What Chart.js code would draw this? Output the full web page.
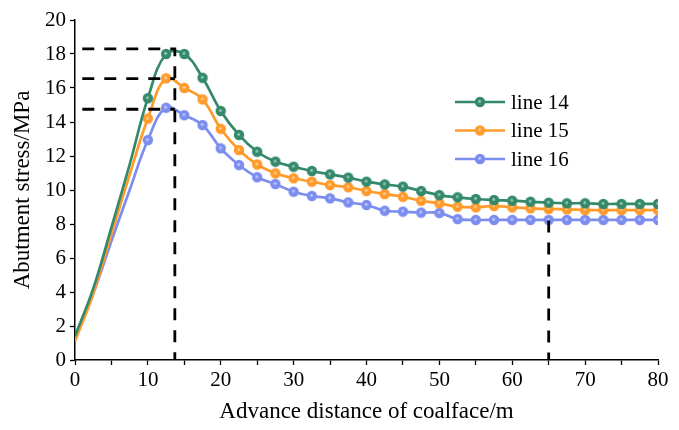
<!DOCTYPE html>
<html>
<head>
<meta charset="utf-8">
<script src="https://cdn.jsdelivr.net/npm/chart.js@4.4.1/dist/chart.umd.min.js"></script>
<style>
  html, body { margin: 0; padding: 0; background: #fff; }
  #wrap { width: 679px; height: 430px; }
</style>
</head>
<body>
<div id="wrap"><canvas id="myChart" width="679" height="430"></canvas></div>
<script>
// advance distance (m) - first four points have no marker
const distance = [0, 2.5, 5, 7.5, 10, 12.5, 15, 17.5, 20, 22.5, 25, 27.5, 30, 32.5, 35, 37.5, 40,
  42.5, 45, 47.5, 50, 52.5, 55, 57.5, 60, 62.5, 65, 67.5, 70, 72.5, 75, 77.5, 80];
const line14 = [1.4, 4.2, 7.8, 11.5, 15.4, 18.0, 18.0, 16.6, 14.65, 13.24, 12.25, 11.67, 11.37, 11.12,
  10.92, 10.73, 10.49, 10.33, 10.2, 9.94, 9.7, 9.57, 9.47, 9.41, 9.37, 9.31, 9.25, 9.22, 9.22, 9.18,
  9.18, 9.18, 9.18];
const line15 = [1.1, 3.9, 7.4, 10.9, 14.2, 16.57, 16.0, 15.33, 13.6, 12.35, 11.5, 10.98, 10.69, 10.49,
  10.29, 10.16, 9.94, 9.76, 9.6, 9.37, 9.22, 9.02, 8.98, 9.06, 8.98, 8.92, 8.88, 8.86, 8.82, 8.82,
  8.82, 8.82, 8.82];
const line16 = [1.3, 3.9, 7.0, 10.0, 12.94, 14.84, 14.4, 13.82, 12.45, 11.47, 10.75, 10.35, 9.9, 9.65,
  9.51, 9.27, 9.12, 8.78, 8.73, 8.67, 8.65, 8.29, 8.24, 8.24, 8.24, 8.24, 8.24, 8.24, 8.24, 8.24,
  8.24, 8.24, 8.24];
const seriesNames = ['line 14', 'line 15', 'line 16'];
const seriesColors = ['#33896a', '#ff9a2b', '#7b8def'];

// dashed guide lines
const peakDistance = 13.7;
const peakStress = [18.3, 16.55, 14.75];
const steadyDistance = 65;
const steadyStress = 8.2;

const xTicks = [0, 10, 20, 30, 40, 50, 60, 70, 80];
const yTicks = [0, 2, 4, 6, 8, 10, 12, 14, 16, 18, 20];

const FONT = "'Liberation Serif', 'Times New Roman', serif";

// little shaded ball used as marker
function makeBall(color) {
  const c = document.createElement('canvas');
  c.width = 12; c.height = 12;
  const g = c.getContext('2d');
  const grad = g.createRadialGradient(5.6, 5.4, 0, 6, 6, 5.5);
  grad.addColorStop(0, 'rgba(255,255,255,0.6)');
  grad.addColorStop(0.35, color);
  grad.addColorStop(1, color);
  g.fillStyle = grad;
  g.beginPath();
  g.arc(6, 6, 5.2, 0, Math.PI * 2);
  g.fill();
  return c;
}
const balls = seriesColors.map(makeBall);

function toPoints(ys) {
  return distance.map((d, i) => ({ x: d, y: ys[i] }));
}

const curves = [line14, line15, line16].map((ys, i) => ({
  label: seriesNames[i],
  data: toPoints(ys),
  borderColor: seriesColors[i],
  backgroundColor: seriesColors[i],
  borderWidth: 2.7,
  tension: 0.4,
  pointStyle: balls[i],
  pointRadius: distance.map((d) => (d < 10 ? 0 : 5)),
  pointHoverRadius: 5,
  order: 2,
}));

function guide(points) {
  return {
    label: '_guide',
    data: points,
    borderColor: '#000',
    borderWidth: 2.8,
    borderDash: [12, 10],
    pointRadius: 0,
    tension: 0,
    order: 1,
  };
}

const guides = [
  guide([{ x: 1, y: peakStress[0] }, { x: peakDistance, y: peakStress[0] }, { x: peakDistance, y: 0 }]),
  guide([{ x: 1, y: peakStress[1] }, { x: peakDistance, y: peakStress[1] }]),
  guide([{ x: 1, y: peakStress[2] }, { x: peakDistance, y: peakStress[2] }]),
  guide([{ x: steadyDistance, y: steadyStress }, { x: steadyDistance, y: 0 }]),
];

// legend drawn inside the plot
const innerLegend = {
  id: 'innerLegend',
  afterDraw(chart) {
    const ctx = chart.ctx;
    ctx.save();
    ctx.font = '21px ' + FONT;
    ctx.textBaseline = 'middle';
    seriesNames.forEach((name, i) => {
      const y = 102 + i * 28.5;
      ctx.strokeStyle = seriesColors[i];
      ctx.lineWidth = 2.7;
      ctx.beginPath();
      ctx.moveTo(455, y);
      ctx.lineTo(505, y);
      ctx.stroke();
      ctx.drawImage(balls[i], 474, y - 6);
      ctx.fillStyle = '#000';
      ctx.fillText(name, 511, y + 1);
    });
    ctx.restore();
  },
};

function createChart() {
  const ctx = document.getElementById('myChart').getContext('2d');
  new Chart(ctx, {
    type: 'line',
    data: { datasets: [...curves, ...guides] },
    options: {
      responsive: false,
      animation: false,
      layout: { padding: { top: 20, right: 21, left: 0, bottom: 0 } },
      plugins: { legend: { display: false }, tooltip: { enabled: false } },
      scales: {
        x: {
          type: 'linear',
          min: 0,
          max: 80,
          afterFit: (s) => { s.height = 70; },
          ticks: {
            stepSize: 5,
            color: '#000',
            font: { family: FONT, size: 21 },
            padding: 3,
            maxRotation: 0,
            callback: (v) => (xTicks.includes(v) ? v : ''),
          },
          grid: { drawOnChartArea: false, color: '#000', tickLength: 5, tickWidth: 1.3 },
          border: { color: '#000', width: 1.5 },
          title: {
            display: true,
            text: 'Advance distance of coalface/m',
            color: '#000',
            font: { family: FONT, size: 23 },
            padding: { top: 0, bottom: 4 },
          },
        },
        y: {
          min: 0,
          max: 20,
          afterFit: (s) => { s.width = 75; },
          ticks: {
            stepSize: 1,
            color: '#000',
            font: { family: FONT, size: 21 },
            padding: 4,
            callback: (v) => (yTicks.includes(v) ? v : ''),
          },
          grid: { drawOnChartArea: false, color: '#000', tickLength: 5, tickWidth: 1.3 },
          border: { color: '#000', width: 1.5 },
          title: {
            display: true,
            text: 'Abutment stress/MPa',
            color: '#000',
            font: { family: FONT, size: 23 },
            padding: { top: 9, bottom: 0 },
          },
        },
      },
    },
    plugins: [innerLegend],
  });
}

createChart();
</script>
</body>
</html>
